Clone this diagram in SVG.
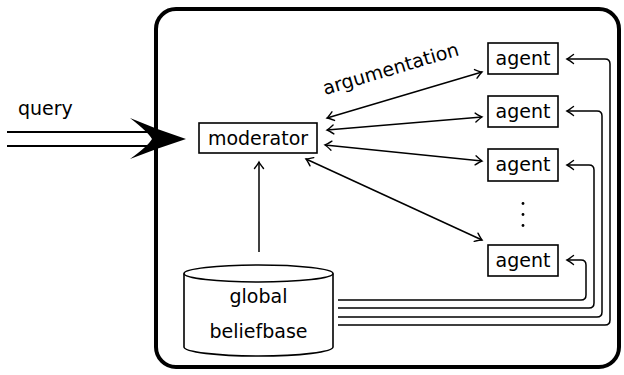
<svg xmlns="http://www.w3.org/2000/svg" width="624" height="375" viewBox="0 0 624 375">
<defs>
<style>
text{font-family:"DejaVu Sans","Liberation Sans",sans-serif;font-size:19px;fill:#000}
.box{fill:#fff;stroke:#000;stroke-width:1.6}
.c{fill:none;stroke:#000;stroke-width:1.5}
</style>
<marker id="ah" markerUnits="userSpaceOnUse" markerWidth="14" markerHeight="14" viewBox="-9 -7 14 14" refX="0" refY="0" orient="auto-start-reverse">
<path d="M-6.5,-4.5 Q-2,-1 0,0 Q-2,1 -6.5,4.5" fill="none" stroke="#000" stroke-width="1.4" stroke-linecap="round"/>
</marker>
</defs>
<rect x="0" y="0" width="624" height="375" fill="#fff"/>
<g id="query">
<line x1="7" y1="132" x2="152" y2="132" stroke="#000" stroke-width="2"/>
<line x1="7" y1="146" x2="152" y2="146" stroke="#000" stroke-width="2"/>
<text x="18" y="115">query</text>
</g>
<g id="frame">
<rect x="156" y="9" width="463" height="358" rx="20" fill="none" stroke="#000" stroke-width="4"/>
</g>
<g id="query-head">
<path d="M186,139 Q158,130 130,118 Q148,132 152,139 Q148,146 130,159 Q158,148 186,139 Z" fill="#000"/>
</g>
<g id="connectors">
<path class="c" d="M327,118 L482,72" marker-start="url(#ah)" marker-end="url(#ah)"/>
<path class="c" d="M327,130 L482,117" marker-start="url(#ah)" marker-end="url(#ah)"/>
<path class="c" d="M325,145 L482,161" marker-start="url(#ah)" marker-end="url(#ah)"/>
<path class="c" d="M306,159 L482,240" marker-start="url(#ah)" marker-end="url(#ah)"/>
<path class="c" d="M259,252 L259,162" marker-end="url(#ah)"/>
<path class="c" d="M338,325 H605 Q610,325 610,320 V64 Q610,59 605,59 H567" marker-end="url(#ah)"/>
<path class="c" d="M338,317 H597 Q602,317 602,312 V116 Q602,111 597,111 H567" marker-end="url(#ah)"/>
<path class="c" d="M338,308 H589 Q594,308 594,303 V170 Q594,165 589,165 H567" marker-end="url(#ah)"/>
<path class="c" d="M338,300 H581 Q586,300 586,295 V265 Q586,260 581,260 H567" marker-end="url(#ah)"/>
<text transform="translate(325,95) rotate(-16.5)">argumentation</text>
</g>
<g id="moderator">
<rect class="box" x="199" y="123" width="118" height="30"/>
<text x="258" y="145" text-anchor="middle">moderator</text>
</g>
<g id="agent1">
<rect class="box" x="488" y="43" width="70" height="31"/>
<text x="523" y="65" text-anchor="middle">agent</text>
</g>
<g id="agent2">
<rect class="box" x="488" y="96" width="70" height="31"/>
<text x="523" y="118" text-anchor="middle">agent</text>
</g>
<g id="agent3">
<rect class="box" x="488" y="149" width="70" height="32"/>
<text x="523" y="171" text-anchor="middle">agent</text>
</g>
<g id="dots">
<circle cx="523" cy="203.5" r="1.4" fill="#000"/>
<circle cx="523" cy="214.5" r="1.4" fill="#000"/>
<circle cx="523" cy="225.5" r="1.4" fill="#000"/>
</g>
<g id="agent4">
<rect class="box" x="488" y="245" width="70" height="31"/>
<text x="523" y="267" text-anchor="middle">agent</text>
</g>
<g id="beliefbase">
<path d="M184,273.5 V347 A74.5,9 0 0 0 333,347 V273.5" fill="#fff" stroke="#000" stroke-width="1.6"/>
<ellipse cx="258.5" cy="273.5" rx="74.5" ry="8.5" fill="#fff" stroke="#000" stroke-width="1.6"/>
<text x="258.5" y="303" text-anchor="middle">global</text>
<text x="258.5" y="338" text-anchor="middle">beliefbase</text>
</g>
</svg>
